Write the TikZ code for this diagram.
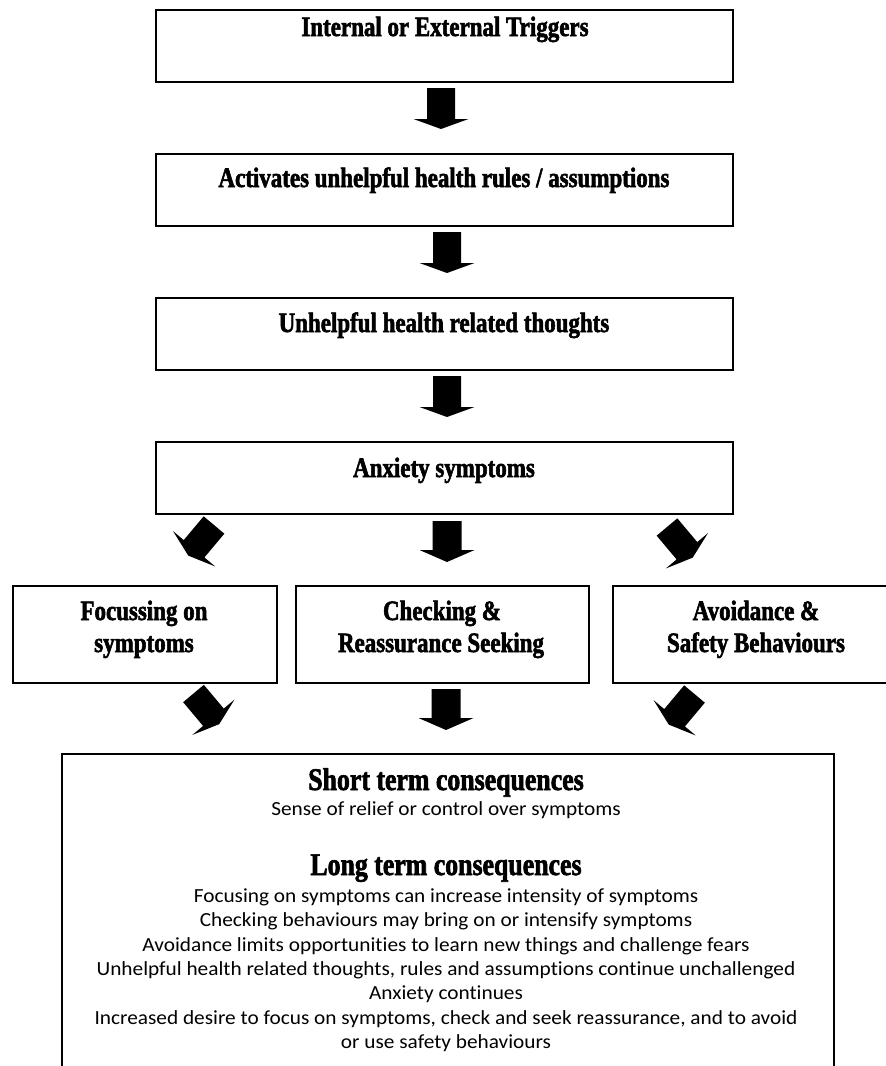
\documentclass[tikz,border=0pt]{standalone}
\usepackage{fontspec}
\setmainfont{Carlito}[FakeStretch=1.065,Ligatures={NoCommon}]
\newfontfamily\hfont{Liberation Serif}[FakeStretch=0.82,BoldFeatures={FakeBold=2}]
\begin{document}
\begin{tikzpicture}[x=1pt,y=-1pt,
  box/.style={draw, line width=1.8pt, inner sep=0pt, anchor=north west},
  htxt/.style={font=\hfont\bfseries\fontsize{28}{32}\selectfont, anchor=base, inner sep=0pt},
  hbig/.style={font=\hfont\bfseries\fontsize{31.5}{36}\selectfont, anchor=base, inner sep=0pt},
  btxt/.style={font=\fontsize{20}{24}\selectfont, anchor=base, inner sep=0pt},
  pics/barrow/.style n args={4}{code={
    \fill (-#1/2,0) -- (#1/2,0) -- (#1/2,#2) -- (#3/2,#2) -- (0,#2+#4) -- (-#3/2,#2) -- (-#1/2,#2) -- cycle;}}
]
\useasboundingbox[fill=white] (0,0) rectangle (886,1066);

% main column boxes
\node[box, minimum width=577pt, minimum height=72pt] (b1) at (155,9) {};
\node[box, minimum width=577pt, minimum height=72pt] (b2) at (155,153) {};
\node[box, minimum width=577pt, minimum height=72pt] (b3) at (155,297) {};
\node[box, minimum width=577pt, minimum height=72pt] (b4) at (155,441) {};

\node[htxt] (t1) at (445,36) {Internal or External Triggers};
\node[htxt] (t2) at (444,187) {Activates unhelpful health rules / assumptions};
\node[htxt] (t3) at (444,332) {Unhelpful health related thoughts};
\node[htxt] (t4) at (444,477) {Anxiety symptoms};

% row boxes
\node[box, minimum width=264pt, minimum height=97pt] (r1) at (12,585) {};
\node[box, minimum width=293pt, minimum height=97pt] (r2) at (295,585) {};
\node[box, minimum width=288pt, minimum height=97pt] (r3) at (612,585) {};

\node[htxt] (r1a) at (144,620) {Focussing on};
\node[htxt] (r1b) at (144,652) {symptoms};
\node[htxt] (r2a) at (442,620) {Checking \&};
\node[htxt] (r2b) at (441,652) {Reassurance Seeking};
\node[htxt] (r3a) at (756,620) {Avoidance \&};
\node[htxt] (r3b) at (756,652) {Safety Behaviours};

% bottom box
\node[box, minimum width=772pt, minimum height=330pt] (bb) at (61,753) {};
\node[hbig] (s1) at (446,790) {Short term consequences};
\node[btxt] (s2) at (446,815) {Sense of relief or control over symptoms};
\node[hbig] (s3) at (446,875) {Long term consequences};
\node[btxt] (l1) at (446,902) {Focusing on symptoms can increase intensity of symptoms};
\node[btxt] (l2) at (446,926) {Checking behaviours may bring on or intensify symptoms};
\node[btxt] (l3) at (446,951) {Avoidance limits opportunities to learn new things and challenge fears};
\node[btxt] (l4) at (446,975) {Unhelpful health related thoughts, rules and assumptions continue unchallenged};
\node[btxt] (l5) at (446,999) {Anxiety continues};
\node[btxt] (l6) at (446,1024) {Increased desire to focus on symptoms, check and seek reassurance, and to avoid};
\node[btxt] (l7) at (446,1048) {or use safety behaviours};

% block arrows
\pic (a1) at (441,88) {barrow={28}{31}{55}{10}};
\pic (a2) at (447,232) {barrow={28}{31}{55}{10}};
\pic (a3) at (447,376) {barrow={28}{31}{55}{10}};
\pic (a4) at (447,521) {barrow={29}{29}{55}{12}};
\pic[rotate=-40] (a5) at (214,525) {barrow={27}{31}{55}{9}};
\pic[rotate=40] (a6) at (667,527) {barrow={27}{31}{55}{9}};
\pic (a7) at (446,689) {barrow={29}{29}{55}{12}};
\pic[rotate=40] (a8) at (193.5,693.5) {barrow={27}{31}{55}{9}};
\pic[rotate=-40] (a9) at (694.5,694) {barrow={27}{31}{55}{9}};
\end{tikzpicture}
\end{document}
